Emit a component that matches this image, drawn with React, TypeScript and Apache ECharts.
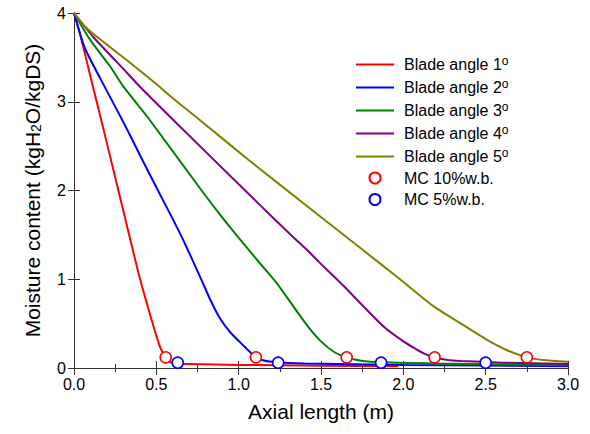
import React, { useEffect, useRef } from "react";
import * as echarts from "echarts";

const xTicks = { min: 0, max: 3, interval: 0.5 };
const yTicks = { min: 0, max: 4, interval: 1 };

const seriesNames = [
  "Blade angle 1",
  "Blade angle 2",
  "Blade angle 3",
  "Blade angle 4",
  "Blade angle 5",
];
const markerNames = ["MC 10%w.b.", "MC 5%w.b."];

const angle1 = [
  [0, 4], [0.036, 3.77], [0.107, 3.23], [0.158, 2.85], [0.25, 2.15], [0.31, 1.69],
  [0.344, 1.43], [0.4, 1.01], [0.47, 0.55], [0.52, 0.25], [0.54, 0.17], [0.557, 0.12],
  [0.58, 0.07], [0.62, 0.05], [0.7, 0.045], [1.0, 0.035], [1.5, 0.025], [1.97, 0.02],
];
const angle2 = [
  [0, 4], [0.067, 3.6], [0.2, 3.12], [0.3, 2.77], [0.4, 2.4], [0.51, 2.0],
  [0.613, 1.63], [0.674, 1.4], [0.765, 1.03], [0.83, 0.76], [0.886, 0.56], [0.95, 0.4],
  [1.03, 0.25], [1.08, 0.16], [1.105, 0.12], [1.14, 0.09], [1.2, 0.07], [1.4, 0.05],
  [2.0, 0.035], [3.0, 0.02],
];
const angle3 = [
  [0, 4], [0.097, 3.7], [0.219, 3.4], [0.3, 3.17], [0.45, 2.82], [0.775, 2.0],
  [0.907, 1.68], [1.008, 1.45], [1.12, 1.2], [1.23, 0.96], [1.33, 0.7], [1.42, 0.47],
  [1.5, 0.3], [1.58, 0.18], [1.656, 0.12], [1.72, 0.09], [1.8, 0.07], [2.2, 0.05],
  [3.0, 0.03],
];
const angle4 = [
  [0, 4], [0.117, 3.73], [0.32, 3.33], [0.405, 3.16], [0.6, 2.8], [1.05, 1.98],
  [1.21, 1.69], [1.34, 1.46], [1.41, 1.34], [1.49, 1.19], [1.585, 1.02], [1.635, 0.93],
  [1.878, 0.47], [2.0, 0.3], [2.08, 0.21], [2.14, 0.15], [2.19, 0.12], [2.27, 0.09],
  [2.35, 0.08], [2.6, 0.06], [3.0, 0.045],
];
const angle5 = [
  [0, 4], [0.05, 3.88], [0.12, 3.76], [0.32, 3.47], [0.5, 3.2], [0.6, 3.04],
  [0.76, 2.8], [1.07, 2.33], [1.48, 1.73], [1.747, 1.34], [1.98, 1.0], [2.18, 0.7],
  [2.35, 0.5], [2.506, 0.32], [2.63, 0.2], [2.75, 0.12], [2.85, 0.09], [3.0, 0.07],
];
const mc10 = [[0.557, 0.12], [1.105, 0.12], [1.656, 0.12], [2.19, 0.12], [2.75, 0.12]];
const mc5 = [[0.63, 0.06], [1.24, 0.06], [1.865, 0.06], [2.5, 0.06]];

const lineColors = ["#ff0000", "#0000ff", "#008000", "#800080", "#808000"];
const markerColors = ["#ff0000", "#0000ff"];

const FONT = "'Liberation Sans', Arial, sans-serif";
const AXIS_COLOR = "#333";

export default function App() {
  const ref = useRef<HTMLDivElement>(null);
  useEffect(() => {
    if (!ref.current) return;
    const chart = echarts.init(ref.current, null, { renderer: "svg" });
    const lineData = [angle1, angle2, angle3, angle4, angle5];
    const tickCommon = {
      axisLine: { show: true, lineStyle: { color: AXIS_COLOR, width: 1 } },
      splitLine: { show: false },
    };
    const xBase = {
      type: "value",
      ...xTicks,
      ...tickCommon,
      axisTick: { show: true, inside: true, length: 7, lineStyle: { color: AXIS_COLOR } },
      minorTick: { show: true, splitNumber: 2, length: 4, lineStyle: { color: AXIS_COLOR } },
    };
    const yBase = {
      type: "value",
      ...yTicks,
      ...tickCommon,
      axisTick: { show: true, inside: true, length: 6, lineStyle: { color: AXIS_COLOR } },
    };
    const option = {
      animation: false,
      backgroundColor: "#fff",
      textStyle: { fontFamily: FONT },
      grid: { left: 74, right: 22, top: 13, bottom: 66 },
      legend: {
        orient: "vertical",
        left: 350,
        top: 50,
        itemWidth: 38,
        itemHeight: 11,
        itemGap: 5.5,
        data: [
          ...seriesNames.map((n) => ({ name: n, itemStyle: { opacity: 0 } })),
          ...markerNames.map((n) => ({ name: n, icon: "circle" })),
        ],
        formatter: (name: string) =>
          seriesNames.includes(name) ? `{t|${name}}{sup|o}` : `{t|${name}}`,
        textStyle: {
          fontFamily: FONT,
          color: "#000",
          padding: [0, 0, 0, 5],
          rich: {
            t: { fontSize: 16, fontFamily: FONT, color: "#000", lineHeight: 19 },
            sup: { fontSize: 12, fontFamily: FONT, color: "#000", verticalAlign: "top", lineHeight: 9 },
          },
        },
      },
      xAxis: [
        {
          ...xBase,
          position: "bottom",
          name: "Axial length (m)",
          nameLocation: "middle",
          nameGap: 33,
          nameTextStyle: { fontSize: 21, fontFamily: FONT, color: "#000" },
          axisLabel: {
            fontSize: 16,
            fontFamily: FONT,
            color: "#000",
            margin: 8,
            formatter: (v: number) => v.toFixed(1),
          },
        },
        {
          ...xBase,
          position: "top",
          axisLabel: { show: false },
        },
      ],
      yAxis: [
        {
          ...yBase,
          position: "left",
          name: "Moisture content (kgH{sub|2}O/kgDS)",
          nameLocation: "middle",
          nameGap: 31,
          nameTextStyle: {
            fontSize: 21,
            fontFamily: FONT,
            color: "#000",
            rich: {
              sub: { fontSize: 14, fontFamily: FONT, color: "#000", verticalAlign: "bottom", lineHeight: 14 },
            },
          },
          axisLabel: { fontSize: 16, fontFamily: FONT, color: "#000", margin: 8 },
        },
        {
          ...yBase,
          position: "right",
          axisLabel: { show: false },
        },
      ],
      series: [
        ...lineData.map((d, i) => ({
          name: seriesNames[i],
          type: "line",
          data: d,
          symbol: "none",
          smooth: 0.2,
          lineStyle: { color: lineColors[i], width: 2 },
          itemStyle: { color: lineColors[i] },
          z: 2,
        })),
        ...[mc10, mc5].map((d, i) => ({
          name: markerNames[i],
          type: "scatter",
          data: d,
          symbol: "circle",
          symbolSize: 11,
          itemStyle: { color: "#fff", borderColor: markerColors[i], borderWidth: 1.6, opacity: 1 },
          z: 5,
        })),
      ],
    };
    chart.setOption(option as any);
    return () => chart.dispose();
  }, []);
  return (
    <div
      ref={ref}
      style={{ position: "fixed", left: 0, top: 0, width: 590, height: 434 }}
    />
  );
}
